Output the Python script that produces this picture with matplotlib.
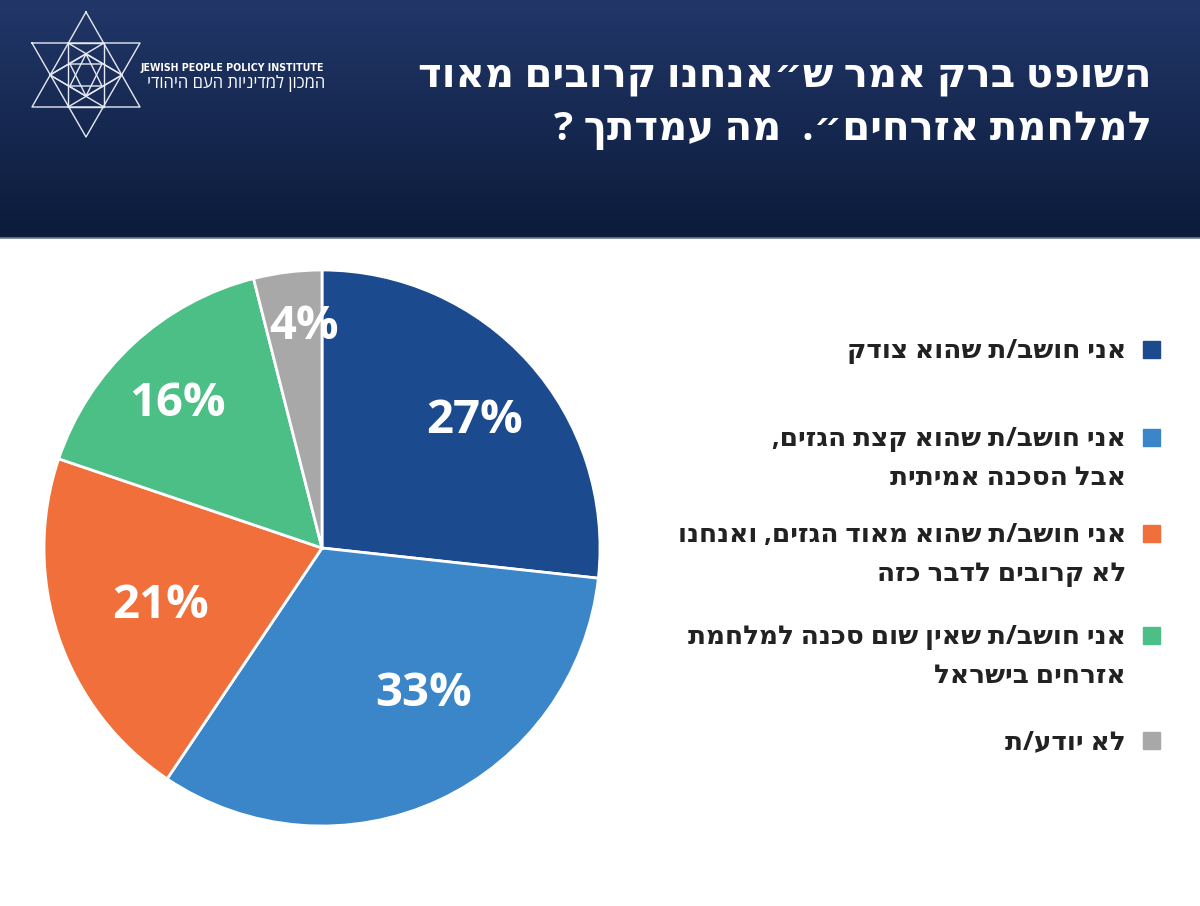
import numpy as np
import matplotlib
matplotlib.use("Agg")
import matplotlib.pyplot as plt
from matplotlib.patches import Rectangle

# ---------------- data ----------------
categories = [
    "אני חושב/ת שהוא צודק",
    "אני חושב/ת שהוא קצת הגזים,\nאבל הסכנה אמיתית",
    "אני חושב/ת שהוא מאוד הגזים, ואנחנו\nלא קרובים לדבר כזה",
    "אני חושב/ת שאין שום סכנה למלחמת\nאזרחים בישראל",
    "לא יודע/ת",
]
values = [27, 33, 21, 16, 4]
colors = ["#1b4a8f", "#3b86c9", "#f06f3a", "#4cbf86", "#a8a8a8"]
title_lines = ["השופט ברק אמר ש״אנחנו קרובים מאוד", "למלחמת אזרחים״.  מה עמדתך ?"]
logo_en = "JEWISH PEOPLE POLICY INSTITUTE"
logo_he = "המכון למדיניות העם היהודי"

FAM = ["Open Sans", "DejaVu Sans"]


def vis(s):
    """Hebrew logical order -> visual (LTR) order, line by line."""
    return "\n".join(line[::-1] for line in s.split("\n"))


W, H = 1200, 906
fig = plt.figure(figsize=(W / 100, H / 100), dpi=100)
fig.patch.set_facecolor("white")

# ---------- background / header ----------
bg = fig.add_axes([0, 0, 1, 1])
bg.set_xlim(0, W)
bg.set_ylim(H, 0)
bg.axis("off")
hdr_h = 238
grad = np.linspace(0, 1, 200)[:, None]
top = np.array([0x22, 0x37, 0x69]) / 255
bot = np.array([0x0b, 0x1b, 0x3a]) / 255
img = top[None, None, :] * (1 - grad[:, :, None]) + bot[None, None, :] * grad[:, :, None]
bg.imshow(img, extent=[0, W, hdr_h, 0], aspect="auto", zorder=0)
bg.plot([0, W], [hdr_h - 0.5, hdr_h - 0.5], color="#6b7891", lw=1.2, zorder=1)

# title
bg.text(1152, 77, vis(title_lines[0]), ha="right", va="center", color="white",
        fontsize=29, fontweight="bold", family=FAM)
bg.text(1152, 130, vis(title_lines[1]), ha="right", va="center", color="white",
        fontsize=29, fontweight="bold", family=FAM)

# logo (star)
lw = 1.0
lc = "#e6e9f2"
up = [(86, 12), (32, 107), (140, 107), (86, 12)]
dn = [(32, 43), (140, 43), (86, 137), (32, 43)]
for pts in (up, dn):
    xs, ys = zip(*pts)
    bg.plot(xs, ys, color=lc, lw=lw)
bg.add_patch(Rectangle((68, 43), 36, 64, fill=False, ec=lc, lw=lw))
iu = [(86, 54), (70, 86), (102, 86), (86, 54)]
idn = [(70, 64), (102, 64), (86, 96), (70, 64)]
for pts in (iu, idn):
    xs, ys = zip(*pts)
    bg.plot(xs, ys, color=lc, lw=lw)
for pts in ([(50, 75), (86, 54), (122, 75), (86, 96), (50, 75)],
            [(68, 43), (122, 75)], [(104, 43), (50, 75)],
            [(68, 107), (122, 75)], [(104, 107), (50, 75)]):
    xs, ys = zip(*pts)
    bg.plot(xs, ys, color=lc, lw=lw)
bg.text(140, 68, logo_en, ha="left", va="center", color="white", fontsize=7.6,
        fontweight="bold", fontstretch="condensed",
        family=["Liberation Sans Narrow", "DejaVu Sans"])
bg.text(325, 84, vis(logo_he), ha="right", va="center", color="white", fontsize=12,
        family=FAM)

# ---------------- pie ----------------
cxp, cyp, R = 322, 548, 278
ax = fig.add_axes([(cxp - R) / W, (H - cyp - R) / H, 2 * R / W, 2 * R / H])
wedges, _ = ax.pie(values, colors=colors, startangle=90, counterclock=False,
                   radius=1.0, wedgeprops=dict(edgecolor="white", linewidth=2))
for w in wedges:
    w.set_clip_on(False)
ax.set_xlim(-1.0, 1.0)
ax.set_ylim(-1.0, 1.0)
ax.set_aspect("equal")
ax.axis("off")

label_r = [0.725, 0.627, 0.61, 0.745, 0.815]
label_dang = [-1.2, 10.8, -0.5, 1.5, -2.6]
half_cap = 16.5 / R
for w, v, r, da in zip(wedges, values, label_r, label_dang):
    ang = np.deg2rad((w.theta1 + w.theta2) / 2 + da)
    ax.text(r * np.cos(ang), r * np.sin(ang) - half_cap, f"{v}%", ha="center",
            va="baseline", color="white", fontsize=34, fontweight="bold", family=FAM)

# ---------------- legend ----------------
leg_y = [349, 437, 533, 635, 740]
for cat, col, y in zip(categories, colors, leg_y):
    bg.add_patch(Rectangle((1143, y - 8.5), 17, 17, color=col, zorder=3))
    bg.text(1126, y - 12, vis(cat), ha="right", va="top", color="#222222",
            fontsize=19, fontweight="bold", family=FAM, linespacing=1.55)

fig.savefig("out.png", dpi=100, facecolor="white")
